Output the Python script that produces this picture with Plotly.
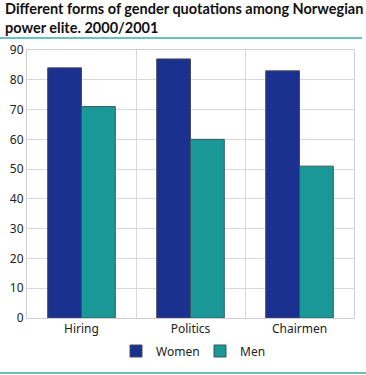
import plotly.graph_objects as go

categories = ["Hiring", "Politics", "Chairmen"]
women = [84, 87, 83]
men = [71, 60, 51]
y_ticks = [0, 10, 20, 30, 40, 50, 60, 70, 80, 90]

L, R, T, B = 27, 12, 50, 57
W, H = 366, 375
pw, ph = W - L - R, H - T - B

def px_x(p):
    return (p - L) / pw

def px_y(p):
    return (H - B - p) / ph

fig = go.Figure()
fig.add_trace(go.Bar(x=categories, y=women, name="Women",
                     marker=dict(color="#1b3190", line=dict(color="#4a4a5a", width=1))))
fig.add_trace(go.Bar(x=categories, y=men, name="Men",
                     marker=dict(color="#1a9898", line=dict(color="#3a5a5a", width=1))))

fig.update_layout(
    width=W, height=H,
    margin=dict(l=L, r=R, t=T, b=B, autoexpand=False),
    paper_bgcolor="white", plot_bgcolor="white",
    font=dict(family="Noto Sans", size=12, color="#222222"),
    barmode="group", bargap=0.38, bargroupgap=0,
    showlegend=True,
    legend=dict(orientation="h", x=px_x(116), xanchor="left", y=px_y(351), yanchor="middle",
                font=dict(size=12), itemwidth=30, entrywidth=39, entrywidthmode="pixels"),
    xaxis=dict(type="category", tickson="boundaries", showgrid=True, gridcolor="#d9d9d9",
               ticks="", showline=True, linecolor="#d0d0d0", mirror=True,
               tickfont=dict(size=12)),
    yaxis=dict(range=[0, 90], tickvals=y_ticks, showgrid=True, gridcolor="#d9d9d9",
               showline=True, linecolor="#d0d0d0", mirror=True, ticks="",
               zeroline=False, tickfont=dict(size=12)),
    annotations=[
        dict(text="<b>Different forms of gender quotations among Norwegian<br>power elite. 2000/2001</b>",
             xref="paper", yref="paper", x=px_x(3), y=px_y(-2), xanchor="left", yanchor="top",
             align="left", showarrow=False,
             font=dict(family="Lato", size=14.5, color="#111111")),
    ],
    shapes=[
        dict(type="line", xref="paper", yref="paper", x0=px_x(0), x1=px_x(362),
             y0=px_y(38), y1=px_y(38), line=dict(color="#3aabab", width=1.5)),
        dict(type="line", xref="paper", yref="paper", x0=px_x(0), x1=px_x(366),
             y0=px_y(373), y1=px_y(373), line=dict(color="#3aabab", width=1.5)),
    ],
)

fig.write_html("out.html", config={"displayModeBar": False},
               post_script="document.body.style.margin='0';")
